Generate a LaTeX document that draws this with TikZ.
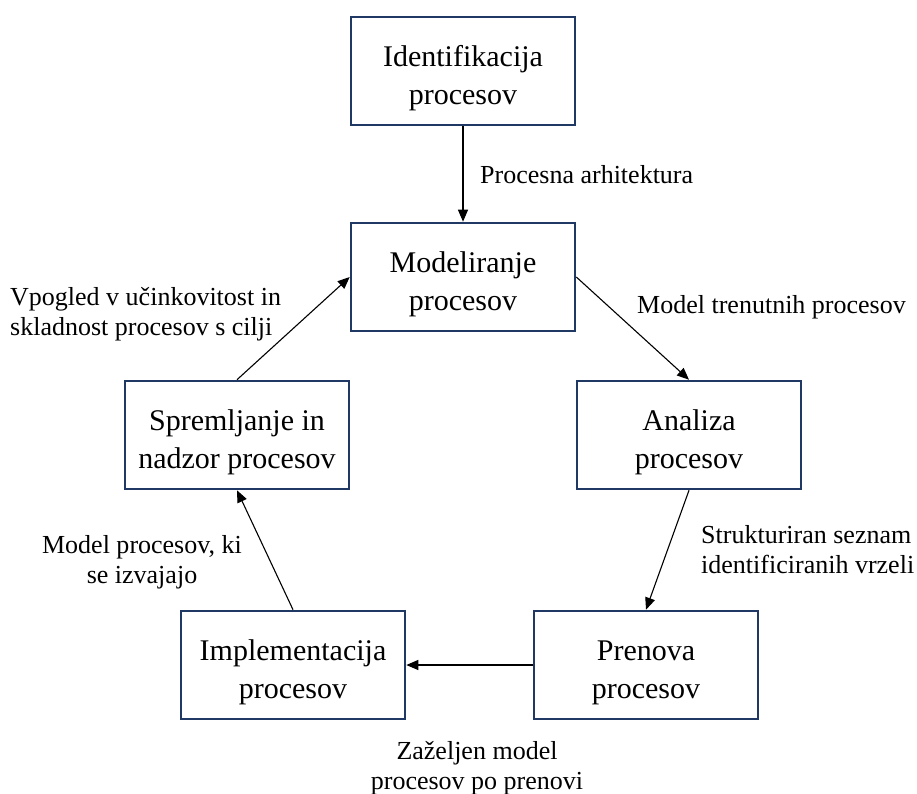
\documentclass[tikz,border=0pt]{standalone}
\usepackage{fontspec}
\setmainfont{Liberation Serif}
\usetikzlibrary{arrows.meta,positioning}
\definecolor{okvir}{RGB}{31,56,100}
\newcommand{\dvig}{\rule{0pt}{36pt}}

\begin{document}
\begin{tikzpicture}[x=1pt, y=-1pt,
  korak/.style={draw=okvir, line width=2.6pt, minimum width=224pt, minimum height=108pt, align=center, font=\fontsize{30}{38}\selectfont},
  opis/.style={inner sep=0pt, font=\fontsize{26}{30}\selectfont},
  puscica/.style={-{Triangle[length=12pt,width=10pt]}, line width=1.1pt, black}]
  \useasboundingbox (0,0) rectangle (917,794);

  % koraki cikla
  \node[korak] (ident) at (463,71) {\dvig Identifikacija\\procesov};
  \node[korak] (model) at (463,277) {\dvig Modeliranje\\procesov};
  \node[korak] (analiza) at (689,435) {\dvig Analiza\\procesov};
  \node[korak] (prenova) at (646,665) {\dvig Prenova\\procesov};
  \node[korak] (impl) at (293,665) {\dvig Implementacija\\procesov};
  \node[korak] (sprem) at (237,435) {\dvig Spremljanje in\\nadzor procesov};

  % povezave
  \draw[puscica] (ident.south) -- (model.north);
  \draw[puscica] (model.east) -- (analiza.north);
  \draw[puscica] (analiza.south) -- (prenova.north);
  \draw[puscica] (prenova.west) -- (impl.east);
  \draw[puscica] (impl.north) -- (sprem.south);
  \draw[puscica] (sprem.north) -- (model.west);

  % opisi izhodov
  \node[opis, anchor=west] (arh) at (480,175) {Procesna arhitektura};
  \node[opis, anchor=west] (trenutni) at (637,307) {Model trenutnih procesov};
  \node[opis, anchor=west, align=left] (vrzeli) at (701,550) {Strukturiran seznam\\identificiranih vrzeli};
  \node[opis, align=center] (zazeljen) at (477,768) {Zaželjen model\\procesov po prenovi};
  \node[opis, align=center] (izvajajo) at (142,562) {Model procesov, ki\\se izvajajo};
  \node[opis, anchor=west, align=left] (vpogled) at (10,314) {Vpogled v učinkovitost in\\skladnost procesov s cilji};
\end{tikzpicture}
\end{document}
